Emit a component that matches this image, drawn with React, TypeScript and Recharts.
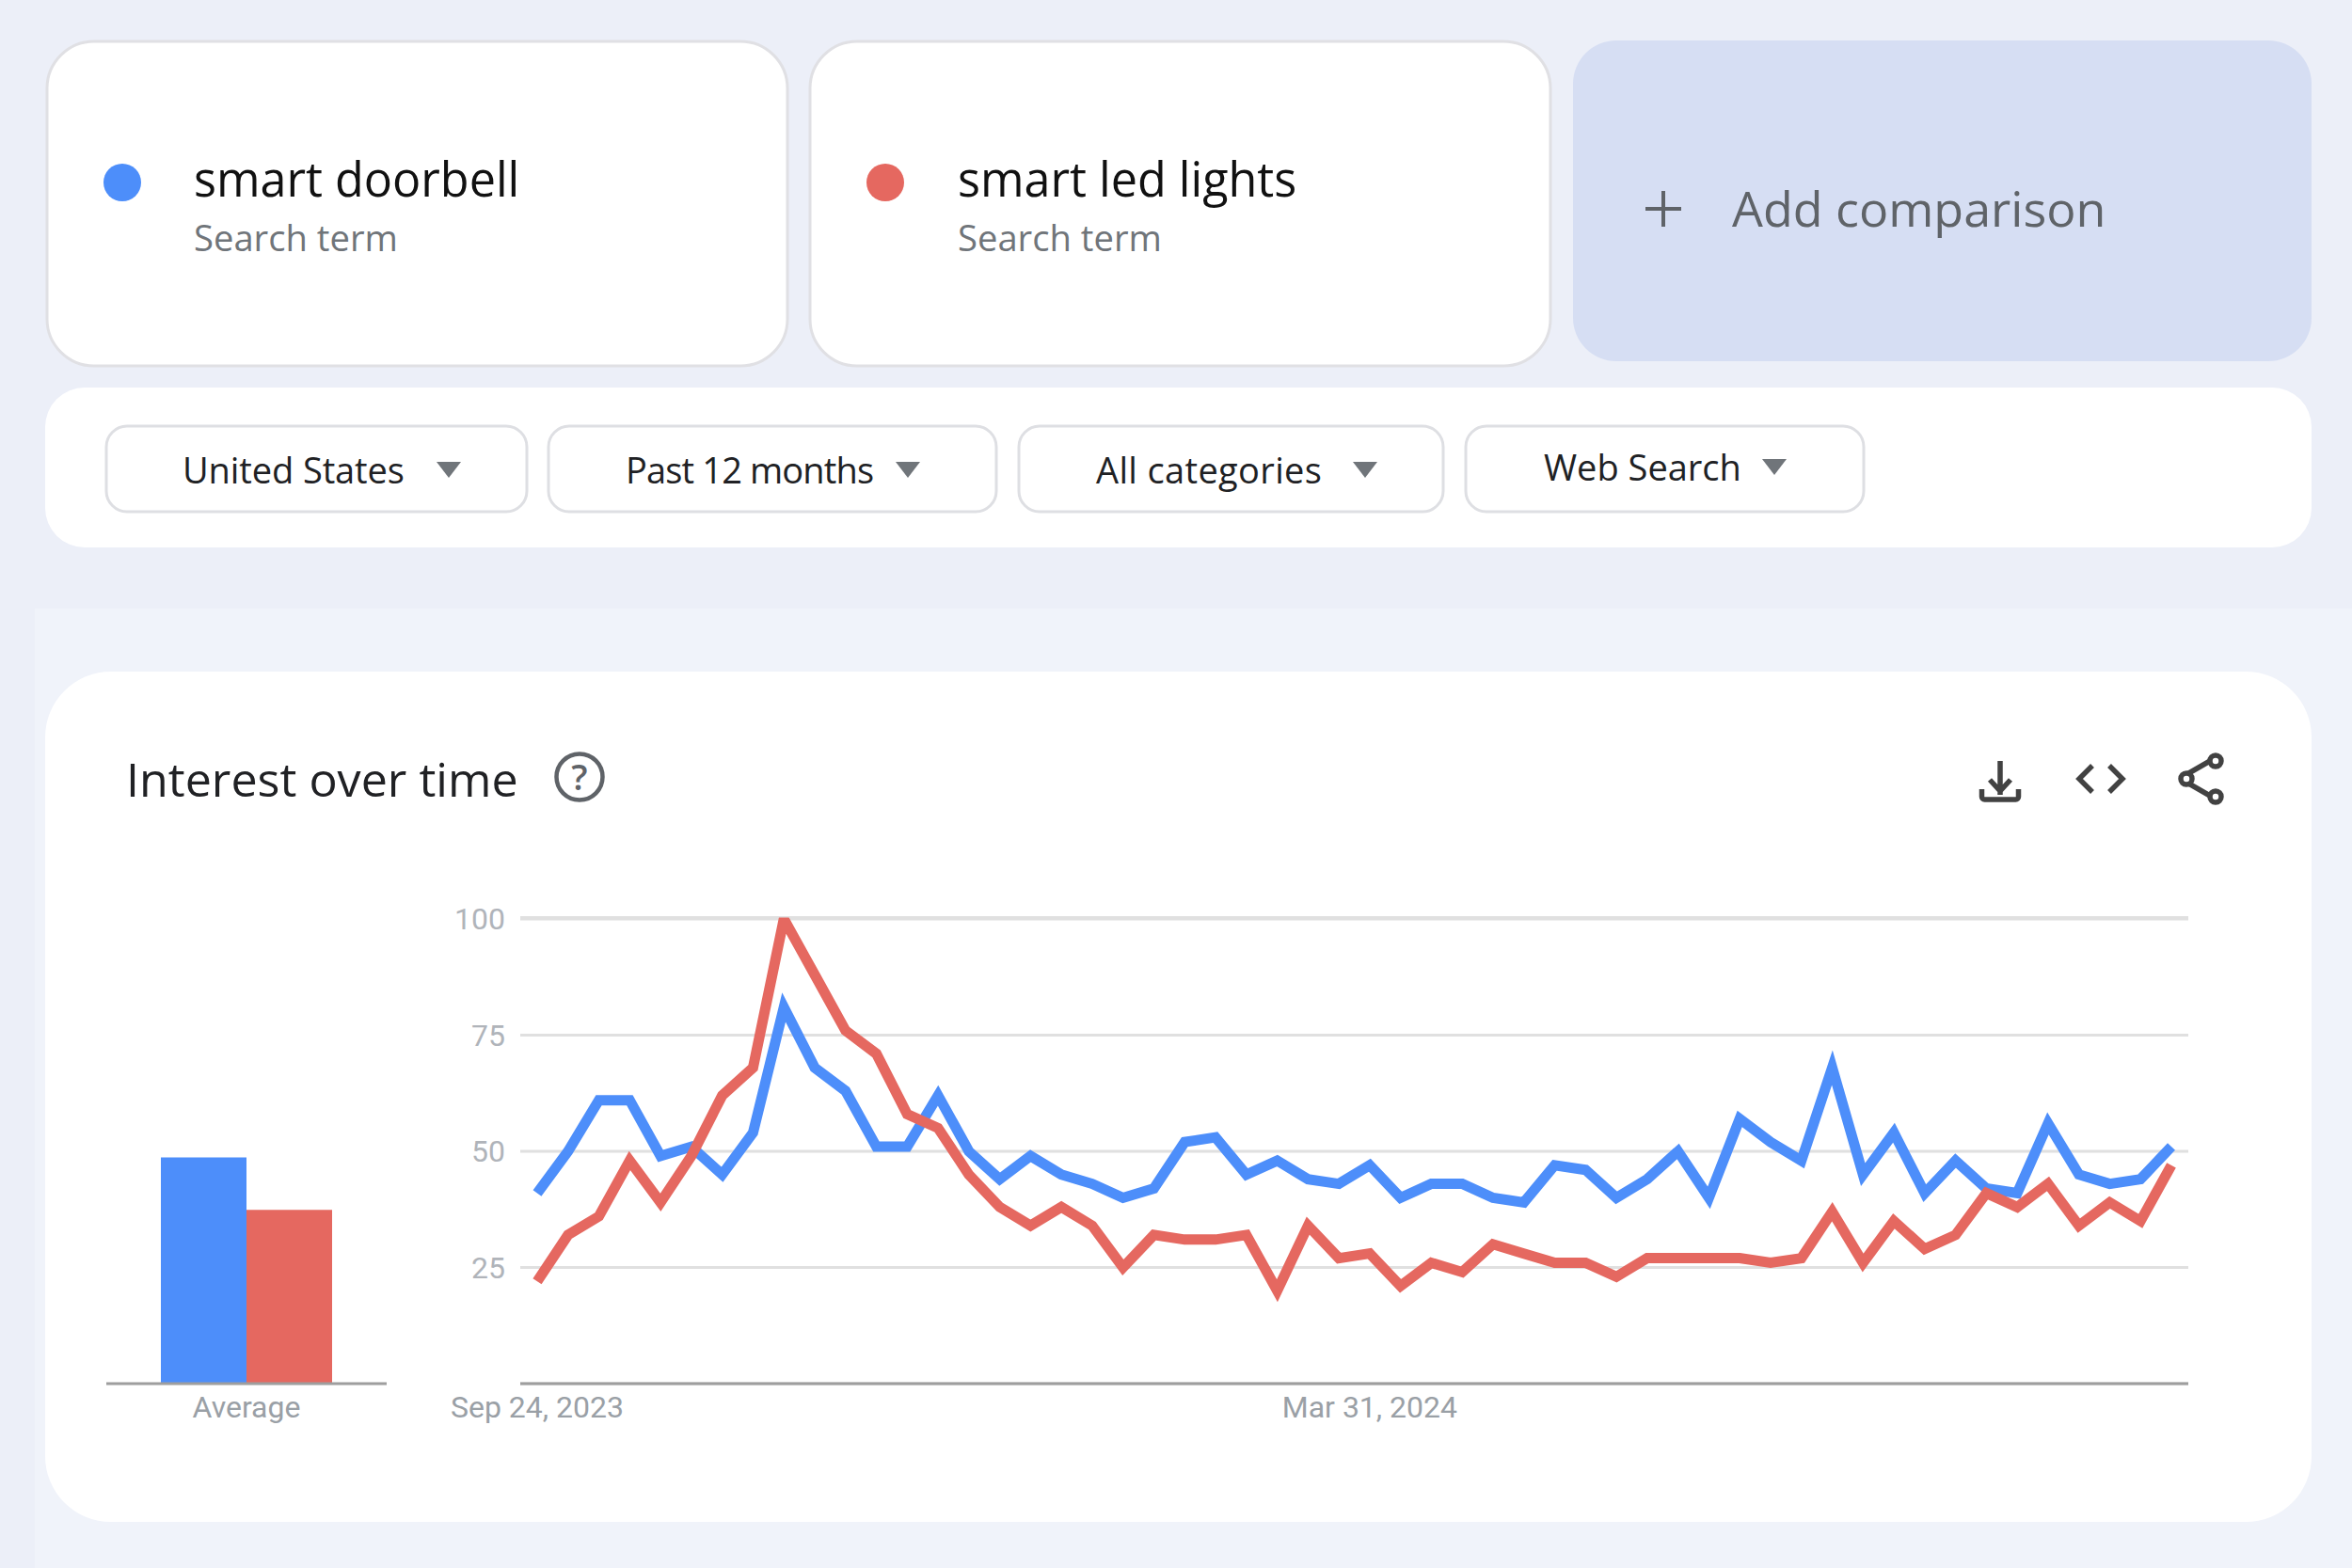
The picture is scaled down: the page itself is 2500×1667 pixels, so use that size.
import { LineChart, Line, BarChart, Bar, XAxis, YAxis, CartesianGrid } from 'recharts';

const BLUE = '#4D8EFA';
const RED = '#E56860';
const SANS = '"Open Sans", sans-serif';
const ROBOTO = 'Roboto, sans-serif';

const weeks = [
  'Sep 24, 2023', 'Oct 1, 2023', 'Oct 8, 2023', 'Oct 15, 2023', 'Oct 22, 2023', 'Oct 29, 2023',
  'Nov 5, 2023', 'Nov 12, 2023', 'Nov 19, 2023', 'Nov 26, 2023', 'Dec 3, 2023', 'Dec 10, 2023',
  'Dec 17, 2023', 'Dec 24, 2023', 'Dec 31, 2023', 'Jan 7, 2024', 'Jan 14, 2024', 'Jan 21, 2024',
  'Jan 28, 2024', 'Feb 4, 2024', 'Feb 11, 2024', 'Feb 18, 2024', 'Feb 25, 2024', 'Mar 3, 2024',
  'Mar 10, 2024', 'Mar 17, 2024', 'Mar 24, 2024', 'Mar 31, 2024', 'Apr 7, 2024', 'Apr 14, 2024',
  'Apr 21, 2024', 'Apr 28, 2024', 'May 5, 2024', 'May 12, 2024', 'May 19, 2024', 'May 26, 2024',
  'Jun 2, 2024', 'Jun 9, 2024', 'Jun 16, 2024', 'Jun 23, 2024', 'Jun 30, 2024', 'Jul 7, 2024',
  'Jul 14, 2024', 'Jul 21, 2024', 'Jul 28, 2024', 'Aug 4, 2024', 'Aug 11, 2024', 'Aug 18, 2024',
  'Aug 25, 2024', 'Sep 1, 2024', 'Sep 8, 2024', 'Sep 15, 2024', 'Sep 22, 2024', 'Sep 29, 2024',
];

const smartDoorbell = [
  41, 50, 61, 61, 49, 51, 45, 54, 81, 68, 63, 51, 51, 62, 50, 44, 49, 45, 43, 40, 42, 52, 53, 45, 48, 44, 43,
  47, 40, 43, 43, 40, 39, 47, 46, 40, 44, 50, 40, 57, 52, 48, 68, 45, 54, 41, 48, 42, 41, 56, 45, 43, 44, 51,
];

const smartLedLights = [
  22, 32, 36, 48, 39, 49, 62, 68, 100, 88, 76, 71, 58, 55, 45, 38, 34, 38, 34, 25, 32, 31, 31, 32, 20, 34, 27,
  28, 21, 26, 24, 30, 28, 26, 26, 23, 27, 27, 27, 27, 26, 27, 37, 26, 35, 29, 32, 41, 38, 43, 34, 39, 35, 47,
];

const yTicks = [25, 50, 75, 100];
const xTicks = ['Sep 24, 2023', 'Mar 31, 2024'];

const averageLabels = ['Average'];
const averageDoorbell = [48.6];
const averageLed = [37.3];

const filters = ['United States', 'Past 12 months', 'All categories', 'Web Search'];

const lineData = weeks.map((week, i) => ({
  week,
  doorbell: smartDoorbell[i],
  led: smartLedLights[i],
}));

const barData = averageLabels.map((label, i) => ({
  label,
  doorbell: averageDoorbell[i],
  led: averageLed[i],
}));

const TICK = { fill: '#9AA0A6', fontSize: 32, fontFamily: ROBOTO };

function Card({ x, color, title, titleX }: { x: number; color: string; title: string; titleX: number }) {
  return (
    <g>
      <rect x={x} y={44} width={787} height={345} rx={50} fill="#fff" stroke="#E0E0E4" strokeWidth={3} />
      <circle cx={x + 80} cy={194} r={20} fill={color} />
      <text x={titleX} y={209} fontFamily={SANS} fontSize={50.3} fill="#111">
        {title}
      </text>
      <text x={titleX} y={267} fontFamily={SANS} fontSize={38.2} fill="#70757A">
        Search term
      </text>
    </g>
  );
}

function Pill({ x, width, label, textX, arrowX, dy = 0, spacing = 0 }: { x: number; width: number; label: string; textX: number; arrowX: number; dy?: number; spacing?: number }) {
  return (
    <g>
      <rect x={x} y={453} width={width} height={91} rx={22} fill="#fff" stroke="#DEDFE3" strokeWidth={3} />
      <text x={textX} y={514 + dy} fontFamily={SANS} fontSize={38} letterSpacing={spacing} fill="#202124">
        {label}
      </text>
      <path d={`M${arrowX} ${491 + dy}h26l-13 17z`} fill="#70757A" />
    </g>
  );
}

function Page() {
  return (
    <svg width={2500} height={1667} style={{ position: 'absolute', left: 0, top: 0 }}>
      <rect width={2500} height={1667} fill="#ECEFF8" />
      <rect x={37} y={647} width={2463} height={1020} fill="#F0F3FA" />

      <Card x={50} color={BLUE} title="smart doorbell" titleX={206} />
      <Card x={861} color={RED} title="smart led lights" titleX={1018} />

      <rect x={1672} y={43} width={785} height={341} rx={46} fill="#D6DEF3" />
      <path d="M1768 203v38M1749 222h38" stroke="#5F6368" strokeWidth={4} />
      <text x={1841} y={241} fontFamily={SANS} fontSize={52} fontWeight={500} fill="#5F6368">
        Add comparison
      </text>

      <rect x={48} y={412} width={2409} height={170} rx={42} fill="#fff" />
      <Pill x={113} width={447} label={filters[0]} textX={194} arrowX={464} spacing={-0.1} />
      <Pill x={583} width={476} label={filters[1]} textX={665} arrowX={952} spacing={-0.85} />
      <Pill x={1083} width={451} label={filters[2]} textX={1165} arrowX={1438} spacing={0.35} />
      <Pill x={1558} width={423} label={filters[3]} textX={1641} arrowX={1873} dy={-3} />

      <rect x={48} y={714} width={2409} height={904} rx={70} fill="#fff" />
      <text x={134} y={847} fontFamily={SANS} fontSize={50.2} fill="#202124">
        Interest over time
      </text>
      <circle cx={616} cy={826} r={24.5} fill="none" stroke="#5F6368" strokeWidth={4.5} />
      <text x={616} y={840} textAnchor="middle" fontFamily={SANS} fontSize={38} fontWeight={600} fill="#5F6368">
        ?
      </text>

      <g fill="none" stroke="#424242" strokeWidth={5.5}>
        <path d="M2126 809v36M2115 829l11 12 11-12" />
        <path d="M2106.5 839v8a3 3 0 0 0 3 3h33a3 3 0 0 0 3-3v-8" />
        <path d="M2224 814l-14 14 14 14M2242 814l14 14-14 14" />
        <path d="M2323 824l33-19M2323 831l33 19" />
        <circle cx={2324} cy={828} r={6} fill="#fff" />
        <circle cx={2355} cy={809} r={6} fill="#fff" />
        <circle cx={2355} cy={847} r={6} fill="#fff" />
      </g>
    </svg>
  );
}

export default function App() {
  return (
    <div style={{ position: 'absolute', left: 0, top: 0, width: 2500, height: 1667, overflow: 'hidden' }}>
      <Page />

      <div style={{ position: 'absolute', left: 90, top: 940 }}>
        <BarChart
          width={344}
          height={600}
          data={barData}
          margin={{ top: 36, right: 23, left: 23, bottom: 0 }}
          barCategoryGap={58}
          barGap={0}
        >
          <XAxis
            dataKey="label"
            height={69}
            tick={TICK}
            tickLine={false}
            tickMargin={7}
            axisLine={{ stroke: '#9E9E9E', strokeWidth: 3 }}
          />
          <YAxis hide domain={[0, 100]} />
          <Bar dataKey="doorbell" fill={BLUE} isAnimationActive={false} />
          <Bar dataKey="led" fill={RED} isAnimationActive={false} />
        </BarChart>
      </div>

      <div style={{ position: 'absolute', left: 460, top: 940 }}>
        <LineChart
          width={1920}
          height={600}
          data={lineData}
          margin={{ top: 35.5, right: 54, left: 0, bottom: 0 }}
        >
          <CartesianGrid vertical={false} stroke="#E0E0E0" strokeWidth={3} />
          <XAxis
            dataKey="week"
            scale="point"
            padding={{ left: 18, right: 18 }}
            ticks={xTicks}
            interval={0}
            height={69}
            tick={TICK}
            tickLine={false}
            tickMargin={7}
            axisLine={{ stroke: '#9E9E9E', strokeWidth: 3 }}
          />
          {/* top of the domain sits just over 100 so the peak is cut flat like the original */}
          <YAxis
            domain={[0, 100.3]}
            allowDataOverflow
            ticks={yTicks}
            width={93}
            tick={{ ...TICK, fill: '#B0B4BA' }}
            tickLine={false}
            tickMargin={10}
            axisLine={false}
          />
          <Line
            dataKey="doorbell"
            type="linear"
            stroke={BLUE}
            strokeWidth={11}
            strokeLinejoin="miter"
            strokeLinecap="butt"
            dot={false}
            isAnimationActive={false}
          />
          <Line
            dataKey="led"
            type="linear"
            stroke={RED}
            strokeWidth={11}
            strokeLinejoin="miter"
            strokeLinecap="butt"
            dot={false}
            isAnimationActive={false}
          />
        </LineChart>
      </div>
    </div>
  );
}
